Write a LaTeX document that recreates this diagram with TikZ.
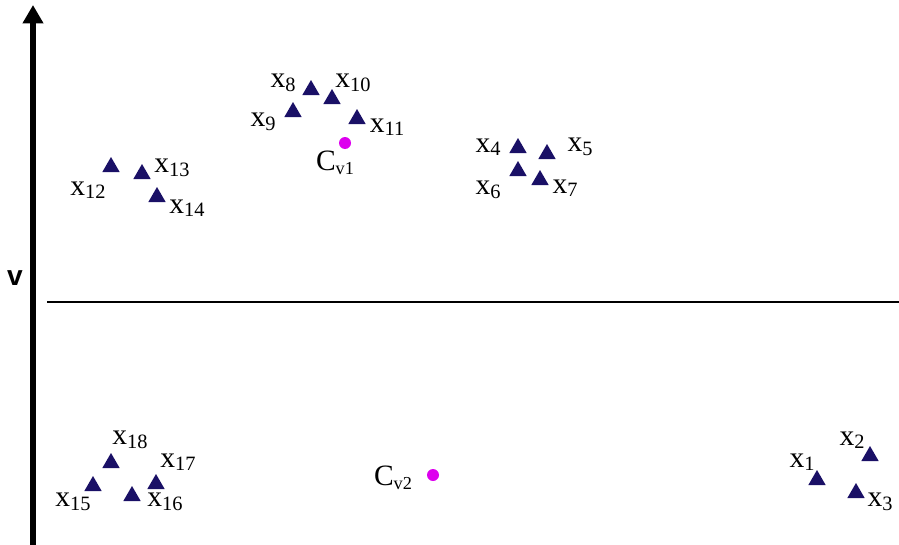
\documentclass[tikz,border=0pt]{standalone}
\usepackage{fontspec}
\setmainfont{Liberation Serif}
\setsansfont{Liberation Sans}
\usetikzlibrary{shapes.geometric,arrows.meta}
\definecolor{navy}{RGB}{26,16,102}
\definecolor{centro}{RGB}{221,0,238}
\newcommand{\xl}[1]{{\fontsize{21}{21}\selectfont x}\raisebox{-2.5pt}{\fontsize{14.5}{14.5}\selectfont #1}}
\newcommand{\cvlab}[1]{{\fontsize{21}{21}\selectfont C}\raisebox{-2.5pt}{\fontsize{13}{13}\selectfont v#1}}
\tikzset{
  tri/.style  = {regular polygon, regular polygon sides=3, fill=navy, minimum size=0.5cm, inner sep=0},
  dot/.style  = {circle, fill=centro, minimum size=0.3cm, inner sep=0},
  asse/.style = {line width=3.6pt, -{Triangle[width=14pt,length=13pt]}},
  sep/.style  = {line width=1.4pt},
  et/.style   = {inner sep=0}
}
\begin{document}
\begin{tikzpicture}
  \useasboundingbox (0,0) rectangle (22.475,-13.625);
  \coordinate (vbot) at (0.825,-13.625); \coordinate (vtop) at (0.825,-0.125);
  \draw[asse] (vbot)--(vtop); \node[font=\sffamily\bfseries\fontsize{20}{20}\selectfont] (v) at (0.375,-6.95) {v};
  \coordinate (sa) at (1.175,-7.55); \coordinate (sb) at (22.475,-7.55); \draw[sep] (sa)--(sb);
  % upper half
  \node[tri] (t4) at (12.95,-3.70){};  \node[et] (l4) at (12.20,-3.675) {\xl{4}};
  \node[tri] (t5) at (13.675,-3.85){}; \node[et] (l5) at (14.50,-3.675) {\xl{5}};
  \node[tri] (t6) at (12.95,-4.275){}; \node[et] (l6) at (12.20,-4.75) {\xl{6}};
  \node[tri] (t7) at (13.50,-4.50){};  \node[et] (l7) at (14.125,-4.70) {\xl{7}};
  \node[tri] (t8) at (7.775,-2.25){};  \node[et] (l8) at (7.075,-2.075) {\xl{8}};
  \node[tri] (t9) at (7.325,-2.80){};  \node[et] (l9) at (6.575,-3.05) {\xl{9}};
  \node[tri] (t10) at (8.30,-2.475){}; \node[et] (l10) at (8.825,-2.075) {\xl{10}};
  \node[tri] (t11) at (8.925,-2.975){};\node[et] (l11) at (9.675,-3.175) {\xl{11}};
  \node[tri] (t12) at (2.775,-4.175){};\node[et] (l12) at (2.20,-4.75) {\xl{12}};
  \node[tri] (t13) at (3.55,-4.35){};  \node[et] (l13) at (4.30,-4.20) {\xl{13}};
  \node[tri] (t14) at (3.925,-4.925){};\node[et] (l14) at (4.675,-5.20) {\xl{14}};
  \node[dot] (c1) at (8.625,-3.575){}; \node[et] (lc1) at (8.375,-4.075) {\cvlab{1}};
  % lower half
  \node[tri] (t1) at (20.425,-12.0){}; \node[et] (l1) at (20.05,-11.55) {\xl{1}};
  \node[tri] (t2) at (21.75,-11.40){}; \node[et] (l2) at (21.30,-11.00) {\xl{2}};
  \node[tri] (t3) at (21.40,-12.325){};\node[et] (l3) at (22.00,-12.55) {\xl{3}};
  \node[tri] (t15) at (2.325,-12.15){};\node[et] (l15) at (1.825,-12.55) {\xl{15}};
  \node[tri] (t16) at (3.30,-12.40){}; \node[et] (l16) at (4.125,-12.55) {\xl{16}};
  \node[tri] (t17) at (3.90,-12.10){}; \node[et] (l17) at (4.45,-11.55) {\xl{17}};
  \node[tri] (t18) at (2.775,-11.575){};\node[et] (l18) at (3.25,-11.00) {\xl{18}};
  \node[dot] (c2) at (10.825,-11.875){}; \node[et] (lc2) at (9.825,-11.95) {\cvlab{2}};
\end{tikzpicture}
\end{document}
